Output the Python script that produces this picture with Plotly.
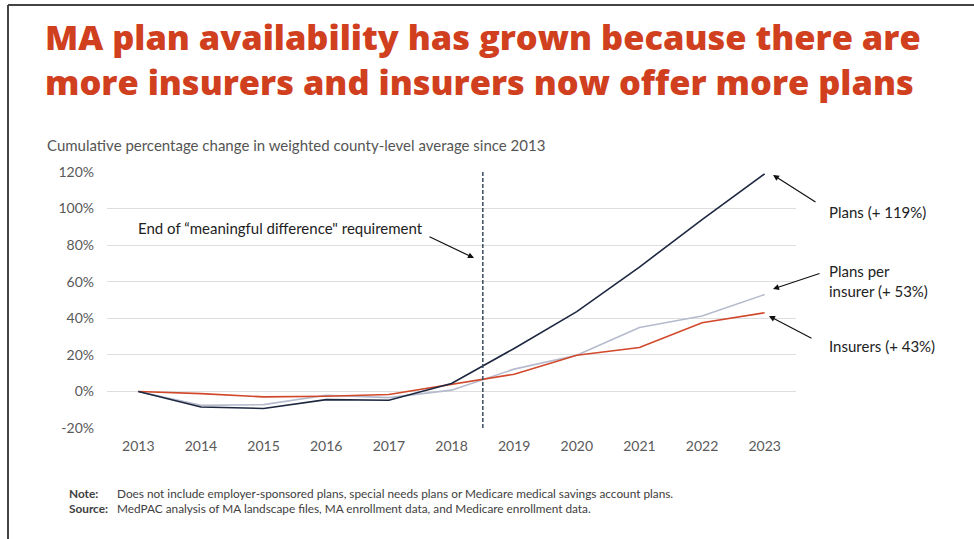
import plotly.graph_objects as go

years = [2013, 2014, 2015, 2016, 2017, 2018, 2019, 2020, 2021, 2022, 2023]
plans = [0, -8.5, -9.3, -4.5, -4.8, 4.3, 23.5, 43.6, 68.0, 94.0, 119.0]
plans_per_insurer = [0, -7.6, -7.2, -2.1, -3.4, 0.7, 12.2, 19.8, 35.0, 41.2, 53.0]
insurers = [0, -1.2, -3.0, -2.6, -1.7, 3.9, 9.4, 19.8, 24.0, 37.6, 43.0]
y_ticks = [-20, 0, 20, 40, 60, 80, 100, 120]
y_tick_labels = ["-20%", "0%", "20%", "40%", "60%", "80%", "100%", "120%"]
series_labels = ["Plans (+ 119%)", "Plans per<br>insurer (+ 53%)", "Insurers (+ 43%)"]
title_lines = ["MA plan availability has grown because there are",
               "more insurers and insurers now offer more plans"]
policy_year = 2018.5

W, H = 974, 539
PL, PR, PT, PB = 107, 796, 172, 428
X0, X1 = 2012.5, 2023.5
Y0, Y1 = -20, 120


def px_x(p):
    return (p - PL) / (PR - PL)


def px_y(p):
    return (PB - p) / (PB - PT)


def dx(p):
    return X0 + (p - PL) / (PR - PL) * (X1 - X0)


def dy(p):
    return Y0 + (PB - p) / (PB - PT) * (Y1 - Y0)


FONT = "Lato"
TFONT = "Open Sans"
fig = go.Figure()
fig.add_trace(go.Scatter(x=years, y=plans_per_insurer, mode="lines",
                         line=dict(color="#b5bacd", width=1.6), name="Plans per insurer"))
fig.add_trace(go.Scatter(x=years, y=insurers, mode="lines",
                         line=dict(color="#d1482a", width=1.6), name="Insurers"))
fig.add_trace(go.Scatter(x=years, y=plans, mode="lines",
                         line=dict(color="#1d2740", width=1.6), name="Plans"))

fig.add_shape(type="line", xref="x", yref="paper", x0=policy_year, x1=policy_year, y0=0, y1=1,
              line=dict(color="#3b4a62", width=1.5, dash="4px,2px"))

# frame
fig.add_shape(type="line", xref="paper", yref="paper", x0=px_x(8), x1=px_x(W + 5),
              y0=px_y(5), y1=px_y(5), line=dict(color="#444444", width=2))
fig.add_shape(type="line", xref="paper", yref="paper", x0=px_x(8), x1=px_x(8),
              y0=px_y(5), y1=px_y(H + 5), line=dict(color="#444444", width=2))

ann = []
ann.append(dict(xref="paper", yref="paper", x=px_x(43), y=px_y(59), xanchor="left", yanchor="middle",
                align="left", showarrow=False, text="<br>".join(title_lines),
                font=dict(family=TFONT, size=34.4, color="#d0401f", weight=800)))
ann.append(dict(xref="paper", yref="paper", x=px_x(45), y=px_y(145), xanchor="left", yanchor="middle",
                showarrow=False,
                text="Cumulative percentage change in weighted county-level average since 2013",
                font=dict(family=FONT, size=15, color="#555555")))
ann.append(dict(xref="paper", yref="paper", x=px_x(136), y=px_y(228), xanchor="left", yanchor="middle",
                showarrow=False, text="End of “meaningful difference\" requirement",
                font=dict(family=FONT, size=15, color="#222222")))

label_y = [212, 280.5, 346]
for t, yy in zip(series_labels, label_y):
    ann.append(dict(xref="paper", yref="paper", x=px_x(827), y=px_y(yy), xanchor="left", yanchor="middle",
                    align="left", showarrow=False, text=t,
                    font=dict(family=FONT, size=15, color="#222222")))

arrows = [((428, 236), (474, 258)),
          ((817, 203), (773, 175)),
          ((821, 273), (773, 289)),
          ((813, 339), (769, 316))]
for (sx, sy), (hx, hy) in arrows:
    ann.append(dict(x=dx(hx), y=dy(hy), xref="x", yref="y", ax=sx - hx, ay=sy - hy,
                    axref="pixel", ayref="pixel", text="", showarrow=True,
                    arrowhead=2, arrowsize=1.0, arrowwidth=1.2, arrowcolor="#111111"))

NS = 11.8
ann.append(dict(xref="paper", yref="paper", x=px_x(67), y=px_y(493), xanchor="left", yanchor="middle",
                showarrow=False, text="<b>Note:</b>", font=dict(family=FONT, size=NS, color="#404040")))
ann.append(dict(xref="paper", yref="paper", x=px_x(67), y=px_y(508), xanchor="left", yanchor="middle",
                showarrow=False, text="<b>Source:</b>", font=dict(family=FONT, size=NS, color="#404040")))
ann.append(dict(xref="paper", yref="paper", x=px_x(115), y=px_y(493), xanchor="left", yanchor="middle",
                showarrow=False,
                text="Does not include employer-sponsored plans, special needs plans or Medicare medical savings account plans.",
                font=dict(family=FONT, size=NS, color="#404040")))
ann.append(dict(xref="paper", yref="paper", x=px_x(115), y=px_y(508), xanchor="left", yanchor="middle",
                showarrow=False,
                text="MedPAC analysis of MA landscape files, MA enrollment data, and Medicare enrollment data.",
                font=dict(family=FONT, size=NS, color="#404040")))

fig.update_layout(
    width=W, height=H,
    margin=dict(l=PL, r=W - PR, t=PT, b=H - PB, pad=0),
    paper_bgcolor="white", plot_bgcolor="white",
    showlegend=False,
    annotations=ann,
    font=dict(family=FONT, color="#595959"),
    xaxis=dict(range=[X0, X1], tickmode="array", tickvals=years, ticktext=[str(y) for y in years],
               showgrid=False, zeroline=False, showline=False, ticks="",
               tickfont=dict(family=FONT, size=14, color="#595959"), ticklabelstandoff=8),
    yaxis=dict(range=[Y0, Y1], tickmode="array", tickvals=y_ticks, ticktext=y_tick_labels,
               showgrid=True, gridcolor="#dedede", gridwidth=1, zeroline=False, showline=False, ticks="",
               tickfont=dict(family=FONT, size=14, color="#595959"), ticklabelstandoff=12),
)

fig.write_html("out.html")
